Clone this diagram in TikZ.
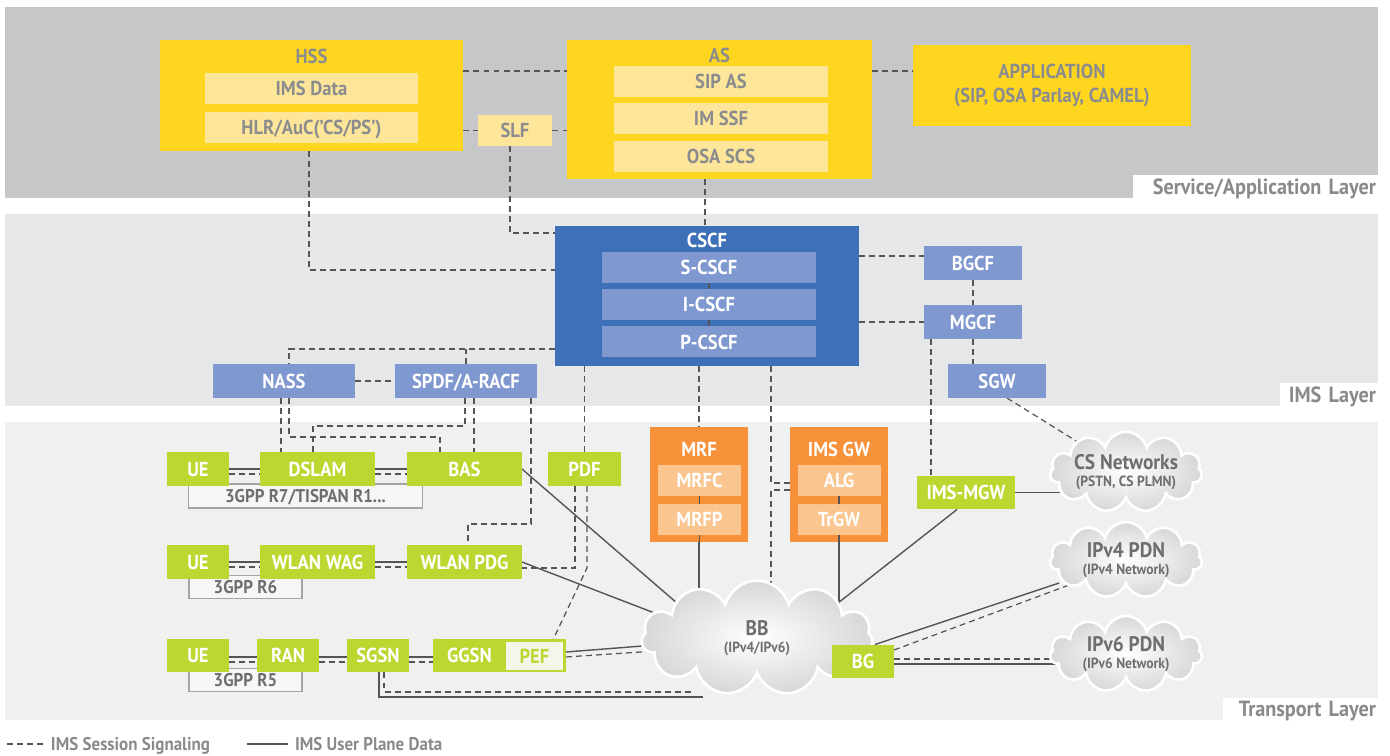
\documentclass[tikz,border=0pt]{standalone}
\usepackage{fontspec}
\setmainfont{PT Sans}[FakeStretch=0.92]
\usepackage{tikz}
\usetikzlibrary{shapes, shapes.symbols, positioning}
\definecolor{svcgray}{HTML}{C6C7C9}
\definecolor{imsgray}{HTML}{E6E7E8}
\definecolor{trngray}{HTML}{EFF0F0}
\definecolor{ylw}{HTML}{FED61F}
\definecolor{ylwlt}{HTML}{FDE699}
\definecolor{ylwtxt}{HTML}{8B8C8E}
\definecolor{blu}{HTML}{3D70B6}
\definecolor{blult}{HTML}{7F98CF}
\definecolor{grn}{HTML}{BED630}
\definecolor{org}{HTML}{F7923A}
\definecolor{orglt}{HTML}{FBC590}
\definecolor{lnk}{HTML}{555555}
\definecolor{lbl}{HTML}{8A8A8A}
\definecolor{tagtxt}{HTML}{6D6E70}
\definecolor{tagline}{HTML}{A3A4A6}
\definecolor{tagfill}{HTML}{F5F6F6}
\definecolor{peffill}{HTML}{F4F6EC}
\definecolor{cloudout}{HTML}{D6D7D8}
\pgfdeclarelayer{bands}
\pgfdeclarelayer{links}
\pgfsetlayers{bands,links,main}
\tikzstyle{sig}    = [draw=lnk, line width=0.7pt, dash pattern=on 3.4pt off 2.3pt]
\tikzstyle{dat}    = [draw=lnk, line width=0.8pt]
\tikzstyle{nb}     = [rectangle, inner sep=0pt, outer sep=0pt, font=\fontsize{11.5}{14}\selectfont\bfseries]
\tikzstyle{cb}     = [nb, text height=8.05pt, text depth=0pt]
\tikzstyle{ybox}   = [nb, fill=ylw, text=ylwtxt]
\tikzstyle{ytitle} = [cb, text=ylwtxt]
\tikzstyle{ysub}   = [cb, fill=ylwlt, text=ylwtxt, minimum width=4.28cm, minimum height=0.62cm]
\tikzstyle{bbox}   = [nb, fill=blu]
\tikzstyle{btitle} = [cb, text=white]
\tikzstyle{lbox}   = [cb, fill=blult, text=white, minimum width=1.96cm, minimum height=0.68cm]
\tikzstyle{bsub}   = [lbox, minimum width=4.28cm, minimum height=0.62cm]
\tikzstyle{gbox}   = [cb, fill=grn, text=white, minimum width=1.24cm, minimum height=0.68cm]
\tikzstyle{pefbox} = [cb, fill=peffill, text=grn, minimum width=1.14cm, minimum height=0.56cm]
\tikzstyle{obox}   = [nb, fill=org, minimum width=1.96cm, minimum height=2.3cm]
\tikzstyle{otitle} = [cb, text=white]
\tikzstyle{osub}   = [cb, fill=orglt, text=white, minimum width=1.66cm, minimum height=0.62cm]
\tikzstyle{tag}    = [cb, fill=tagfill, draw=tagline, line width=0.8pt, text=tagtxt, minimum height=0.46cm, font=\fontsize{10.5}{12}\selectfont\bfseries, text height=7.35pt]
\tikzstyle{net}    = [cloud, cloud puffs=11, cloud ignores aspect, minimum width=3.04cm, minimum height=1.52cm, inner sep=0pt, draw=white, line width=1.5pt, shade, shading=radial, inner color=white, outer color=cloudout, text=tagtxt, align=center, font=\fontsize{8.4}{10}\selectfont\bfseries]
\tikzstyle{lyr}    = [cb, fill=white, text=lbl, align=right, inner xsep=0.04cm, minimum height=0.46cm, font=\fontsize{12.5}{14}\selectfont\bfseries, text height=8.75pt]
\tikzstyle{leg}    = [cb, text=lbl, font=\fontsize{10.5}{12}\selectfont\bfseries, text height=7.35pt]

\begin{document}
\begin{tikzpicture}[x=0.02cm, y=-0.02cm]
\useasboundingbox (0,0) rectangle (1390,756);

% layers
\begin{pgfonlayer}{bands}
\fill [svcgray] (5,7)   rectangle (1378,198);
\fill [imsgray] (5,214) rectangle (1378,406);
\fill [trngray] (5,422) rectangle (1378,720);
\end{pgfonlayer}
\node [lyr, text width=4.82cm] at (1255.5,186.5) (lsvc) {Service/Application Layer};
\node [lyr, text width=1.88cm] at (1329,394.5)   (lims) {IMS Layer};
\node [lyr, text width=3.02cm] at (1300.5,709)   (ltrn) {Transport Layer};

% service layer
\node [ybox, minimum width=6.08cm, minimum height=2.22cm] at (311.5,95.5)  (hss)     {};
\node [ytitle]                                            at (311.5,56)    (hsst)    {HSS};
\node [ysub]                                              at (311.5,88.5)  (imsdata) {IMS Data};
\node [ysub]                                              at (311.5,127.5) (hlr)     {HLR/AuC('CS/PS')};
\node [ysub, minimum width=1.5cm]                         at (515,130.5)   (slf)     {SLF};
\node [ybox, minimum width=6.1cm, minimum height=2.78cm]  at (719.5,109.5) (as)      {};
\node [ytitle]                                            at (719.5,55)    (ast)     {AS};
\node [ysub]                                              at (721,81.5)    (sipas)   {SIP AS};
\node [ysub]                                              at (721,118.5)   (imssf)   {IM SSF};
\node [ysub]                                              at (721,156.5)   (osascs)  {OSA SCS};
\node [ybox, minimum width=5.56cm, minimum height=1.64cm, align=center] at (1052,85.5) (app) {APPLICATION\\(SIP, OSA Parlay, CAMEL)};

% ims layer
\node [bbox, minimum width=6.08cm, minimum height=2.8cm] at (707,296)   (cscf)  {};
\node [btitle]                                           at (707,240)   (cscft) {CSCF};
\node [bsub]                                             at (709,267.5) (scscf) {S-CSCF};
\node [bsub]                                             at (709,304.5) (icscf) {I-CSCF};
\node [bsub]                                             at (709,342)   (pcscf) {P-CSCF};
\node [lbox]                                             at (973,263)   (bgcf)  {BGCF};
\node [lbox]                                             at (973,322)   (mgcf)  {MGCF};
\node [lbox]                                             at (997,381)   (sgw)   {SGW};
\node [lbox, minimum width=2.84cm]                       at (284,381)   (nass)  {NASS};
\node [lbox, minimum width=2.84cm]                       at (466,381)   (spdf)  {SPDF/A-RACF};

% transport layer
\node [tag, minimum width=4.68cm, minimum height=0.48cm] at (305.5,496) (r7) {3GPP R7/TISPAN R1...};
\node [tag, minimum width=2.26cm]                        at (245.5,587) (r6) {3GPP R6};
\node [tag, minimum width=2.26cm]                        at (245.5,680) (r5) {3GPP R5};

\node [gbox]                       at (198,469)   (ue1)   {UE};
\node [gbox, minimum width=2.3cm]  at (317.5,469) (dslam) {DSLAM};
\node [gbox, minimum width=2.3cm]  at (464.5,469) (bas)   {BAS};
\node [gbox, minimum width=1.48cm] at (584.5,469) (pdf)   {PDF};
\node [gbox]                       at (198,562)   (ue2)   {UE};
\node [gbox, minimum width=2.3cm]  at (317.5,562) (wwag)  {WLAN WAG};
\node [gbox, minimum width=2.3cm]  at (464.5,562) (wpdg)  {WLAN PDG};
\node [gbox]                       at (198,655.5) (ue3)   {UE};
\node [gbox]                       at (288,655.5) (ran)   {RAN};
\node [gbox]                       at (378,655.5) (sgsn)  {SGSN};
\node [gbox, minimum width=2.66cm, text width=2.1cm, align=left, inner xsep=0.28cm] at (499.5,655.5) (ggsn) {GGSN};
\node [pefbox]                     at (534.5,656) (pef)   {PEF};

\node [obox]   at (699,484.5) (mrf)    {};
\node [otitle] at (699,449)   (mrft)   {MRF};
\node [osub]   at (699.5,480.5) (mrfc) {MRFC};
\node [osub]   at (699.5,519.5) (mrfp) {MRFP};
\node [obox]   at (839,484.5) (imsgw)  {};
\node [otitle] at (839,449)   (imsgwt) {IMS GW};
\node [osub]   at (839,480.5) (alg)    {ALG};
\node [osub]   at (839,519.5) (trgw)   {TrGW};

\node [gbox, minimum width=1.96cm] at (966,492.5) (imsmgw) {IMS-MGW};

\node [net, minimum width=4.62cm, minimum height=2.3cm] at (757,638) (bb) {{\fontsize{12}{13}\selectfont BB}\\(IPv4/IPv6)};
\node [net] at (1126,472) (csnet) {{\fontsize{12}{13}\selectfont CS Networks}\\(PSTN, CS PLMN)};
\node [net] at (1126,560) (ipv4)  {{\fontsize{12}{13}\selectfont IPv4 PDN}\\(IPv4 Network)};
\node [net] at (1126,654) (ipv6)  {{\fontsize{12}{13}\selectfont IPv6 PDN}\\(IPv6 Network)};

\node [gbox] at (863,661.5) (bg) {BG};

% inner links
\path [dat] (scscf) edge (icscf)
            (icscf) edge (pcscf)
            (mrfc)  edge (mrfp)
            (alg)   edge (trgw)
            (mrfp.south) edge (mrfp.south |- mrf.south)
            (trgw.south) edge (trgw.south |- imsgw.south);

% legend
\node [leg, anchor=west] at (51,744)  (lsig) {IMS Session Signaling};
\node [leg, anchor=west] at (295,744) (ldat) {IMS User Plane Data};
\draw [sig] ([xshift=-0.16cm]lsig.west) -- ++(-0.76cm,0);
\draw [dat] ([xshift=-0.14cm]ldat.west) -- ++(-0.82cm,0);

\begin{pgfonlayer}{links}
\coordinate (nsig) at ([yshift=-1.06cm]cscf.west);
\coordinate (gwx)  at ([xshift=-0.38cm]imsgw.west);

% session signaling
\path [sig] ([yshift=0.49cm]hss.east)   edge ([yshift=0.49cm]hss.east -| as.west)
            (slf.west -| hss.east)      edge (slf.west)
            (slf.east)                  edge (slf.east -| as.west)
            ([yshift=0.77cm]as.east)    edge ([yshift=0.77cm]as.east -| app.west)
            ([xshift=-0.29cm]as.south)  edge ([xshift=-0.29cm]as.south |- cscf.north)
            ([yshift=0.14cm]bgcf.west -| cscf.east) edge ([yshift=0.14cm]bgcf.west)
            (mgcf.west -| cscf.east)    edge (mgcf.west)
            (bgcf)                      edge (mgcf)
            (mgcf.south)                edge (mgcf.south |- sgw.north)
            ([xshift=-0.84cm]mgcf.south) edge ([xshift=-0.84cm]mgcf.south |- imsmgw.north)
            ([xshift=0.2cm]sgw.south)   edge (csnet)
            (nass)                      edge (spdf)
            (spdf.north)                edge (spdf.north |- nsig)
            ([xshift=-0.06cm]nass.south) edge ([xshift=-0.06cm]nass.south |- dslam.north)
            ([xshift=0.16cm]spdf.south) edge ([xshift=0.16cm]spdf.south |- bas.north)
            (pdf.north |- cscf.south)   edge (pdf.north)
            (mrf.north |- cscf.south)   edge (mrf.north)
            ([yshift=-0.1cm]ue1.east)   edge ([yshift=-0.1cm]dslam.west)
            ([yshift=-0.1cm]dslam.east) edge ([yshift=-0.1cm]bas.west)
            ([yshift=-0.1cm]ue2.east)   edge ([yshift=-0.1cm]wwag.west)
            ([yshift=-0.1cm]wwag.east)  edge ([yshift=-0.1cm]wpdg.west)
            ([yshift=-0.13cm]ue3.east)  edge ([yshift=-0.13cm]ran.west)
            ([yshift=-0.13cm]ran.east)  edge ([yshift=-0.13cm]sgsn.west)
            ([yshift=-0.13cm]sgsn.east) edge ([yshift=-0.13cm]ggsn.west)
            ([xshift=0.06cm, yshift=-0.02cm]pef.east) edge ([xshift=-1.14cm, yshift=-0.2cm]bb.center)
            ([yshift=0.23cm]bg.east)    edge ([xshift=0.4cm, yshift=-0.5cm]ipv4.west)
            ([yshift=0.05cm]bg.east)    edge ([yshift=0.05cm]bg.east -| ipv6.center);
\draw [sig] ([xshift=-0.05cm]hss.south) |- ([yshift=0.52cm]cscf.west);
\draw [sig] ([xshift=-0.1cm]slf.south)  |- ([yshift=1.26cm]cscf.west);
\draw [sig] (nsig) -| ([xshift=0.1cm]nass.north);
\draw [sig] ([xshift=0.1cm]nass.south)   |- ([xshift=-0.49cm, yshift=0.3cm]bas.north) -- ([xshift=-0.49cm]bas.north);
\draw [sig] ([xshift=-0.02cm]spdf.south) |- ([xshift=-0.09cm, yshift=0.52cm]dslam.north) -- ([xshift=-0.09cm]dslam.north);
\draw [sig] ([xshift=1.3cm]spdf.south)   |- ([xshift=0.07cm, yshift=0.42cm]wpdg.north) -- ([xshift=0.07cm]wpdg.north);
\draw [sig] (gwx |- cscf.south) |- ([yshift=0.03cm]imsgw.west);
\draw [sig] ([yshift=-0.11cm]imsgw.west) -| (gwx |- bb.center);
\draw [sig] ([xshift=-0.19cm]pdf.south) |- ([yshift=-0.12cm]wpdg.east);
\draw [sig] ([xshift=0.05cm]pdf.south) -- ([xshift=0.05cm, yshift=-0.12cm]pdf.south |- wpdg.east) -- ([xshift=0.35cm]pef.north);
\draw [sig] ([xshift=0.12cm]sgsn.south) |- ([xshift=-1.3cm, yshift=-1.08cm]bb.center);

% user plane data
\path [dat] (ue1) edge (dslam)  (dslam) edge (bas)
            (ue2) edge (wwag)   (wwag)  edge (wpdg)
            ([yshift=-0.03cm]ue3.east)  edge ([yshift=-0.03cm]ran.west)
            ([yshift=-0.03cm]ran.east)  edge ([yshift=-0.03cm]sgsn.west)
            ([yshift=-0.03cm]sgsn.east) edge ([yshift=-0.03cm]ggsn.west)
            (bas.east)    edge ([xshift=-1.14cm, yshift=0.3cm]bb.center)
            (wpdg.east)   edge ([xshift=-1.14cm, yshift=0.15cm]bb.center)
            (mrf.south)   edge (mrf.south |- bb.center)
            (imsgw.south) edge (imsgw.south |- bb.center)
            ([xshift=-0.18cm]imsmgw.south) edge ([xshift=1.06cm, yshift=0.26cm]bb.center)
            (imsmgw.east) edge (imsmgw.east -| csnet.center)
            ([xshift=0.06cm, yshift=0.08cm]pef.east) edge ([xshift=-1.14cm, yshift=-0.07cm]bb.center)
            ([xshift=0.24cm]bg.north)   edge ([xshift=0.2cm, yshift=-0.46cm]ipv4.west)
            ([yshift=-0.05cm]bg.east)   edge ([yshift=-0.05cm]bg.east -| ipv6.center);
\draw [dat] ([xshift=0.02cm]sgsn.south) |- ([xshift=-1.08cm, yshift=-1.18cm]bb.center);
\end{pgfonlayer}

\end{tikzpicture}
\end{document}
